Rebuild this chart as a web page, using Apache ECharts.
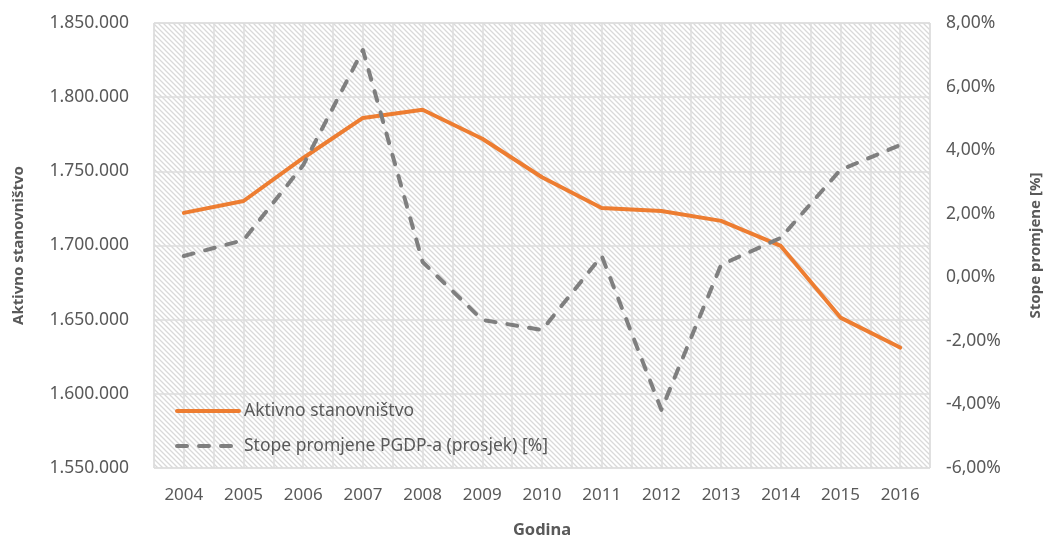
<!DOCTYPE html>
<html>
<head>
<meta charset="utf-8">
<script src="https://cdn.jsdelivr.net/npm/echarts@6/dist/echarts.min.js"></script>
<style>
html,body{margin:0;padding:0;background:#fff}
#chart{width:1047px;height:536px}
</style>
</head>
<body>
<div id="chart"></div>
<script>
let years = ["2004","2005","2006","2007","2008","2009","2010","2011","2012","2013","2014","2015","2016"]
// Aktivno stanovništvo (left axis)
let aktivno = [1722000,1730000,1759000,1786000,1791500,1772000,1746000,1725300,1723300,1716600,1699700,1651400,1631200]
// Stope promjene PGDP-a (prosjek) [%] (right axis)
let stope = [0.67,1.17,3.53,7.15,0.48,-1.34,-1.66,0.67,-4.17,0.39,1.24,3.38,4.16]

// hatch pattern for plot background
let hatch = document.createElement("canvas")
hatch.width = 5
hatch.height = 5
let ctx = hatch.getContext("2d")
ctx.fillStyle = "#ffffff"
ctx.fillRect(0, 0, 5, 5)
ctx.strokeStyle = "#d9d9d9"
ctx.lineWidth = 1.3
ctx.beginPath()
ctx.moveTo(-1, -1); ctx.lineTo(6, 6)
ctx.moveTo(-1, 4); ctx.lineTo(1, 6)
ctx.moveTo(4, -1); ctx.lineTo(6, 1)
ctx.stroke()

let txt = "#595959"
let font = "Noto Sans"

let chart = echarts.init(document.getElementById("chart"))
chart.setOption({
	animation: false,
	textStyle: { fontFamily: font },
	grid: {
		left: 154, right: 117, top: 23, bottom: 68,
		outerBoundsMode: "none",
		containLabel: false,
		show: true,
		backgroundColor: { image: hatch, repeat: "repeat" },
		borderColor: "#d9d9d9",
		borderWidth: 1
	},
	legend: {
		orient: "vertical",
		left: 170,
		top: 397,
		itemWidth: 62,
		itemHeight: 16,
		itemGap: 17,
		itemStyle: { opacity: 0 },
		lineStyle: { width: 4 },
		textStyle: { fontSize: 17.5, color: txt, fontFamily: font },
		data: ["Aktivno stanovništvo", "Stope promjene PGDP-a (prosjek) [%]"]
	},
	xAxis: [
		{
			type: "category",
			data: years,
			name: "Godina",
			nameLocation: "middle",
			nameGap: 54,
			nameTextStyle: { fontSize: 16.5, fontWeight: "bold", color: txt },
			axisLine: { show: false },
			axisTick: { show: false },
			splitLine: { show: false },
			axisLabel: { fontSize: 17, color: txt, margin: 19 }
		},
		{
			type: "value",
			min: -0.5,
			max: 12.5,
			interval: 0.5,
			show: true,
			axisLine: { show: false },
			axisTick: { show: false },
			axisLabel: { show: false },
			splitLine: { show: true, lineStyle: { color: "#dcdcdc", width: 1.5 } }
		}
	],
	yAxis: [
		{
			type: "value",
			min: 1550000,
			max: 1850000,
			interval: 50000,
			name: "Aktivno stanovništvo",
			nameLocation: "middle",
			nameGap: 128,
			nameTextStyle: { fontSize: 15, fontWeight: "bold", color: txt },
			axisLine: { show: false },
			axisTick: { show: false },
			splitLine: { show: true, lineStyle: { color: "#dcdcdc", width: 1.5 } },
			axisLabel: {
				fontSize: 17.5, color: txt, margin: 25,
				formatter: v => String(v).replace(/\B(?=(\d{3})+(?!\d))/g, ".")
			}
		},
		{
			type: "value",
			min: -6,
			max: 8,
			interval: 2,
			name: "Stope promjene [%]",
			nameLocation: "middle",
			nameGap: 98,
			nameRotate: 90,
			nameTextStyle: { fontSize: 15, fontWeight: "bold", color: txt },
			axisLine: { show: false },
			axisTick: { show: false },
			splitLine: { show: false },
			axisLabel: {
				fontSize: 17.5, color: txt, margin: 16,
				formatter: v => v.toFixed(2).replace(".", ",") + "%"
			}
		}
	],
	series: [
		{
			name: "Aktivno stanovništvo",
			type: "line",
			yAxisIndex: 0,
			data: aktivno,
			symbol: "none",
			color: "#ed7d31",
			lineStyle: { width: 4, color: "#ed7d31", cap: "round", join: "round" }
		},
		{
			name: "Stope promjene PGDP-a (prosjek) [%]",
			type: "line",
			yAxisIndex: 1,
			data: stope,
			symbol: "none",
			color: "#7f7f7f",
			lineStyle: { width: 4, color: "#7f7f7f", type: [10, 12], cap: "round", join: "round" }
		}
	]
})
</script>
</body>
</html>
